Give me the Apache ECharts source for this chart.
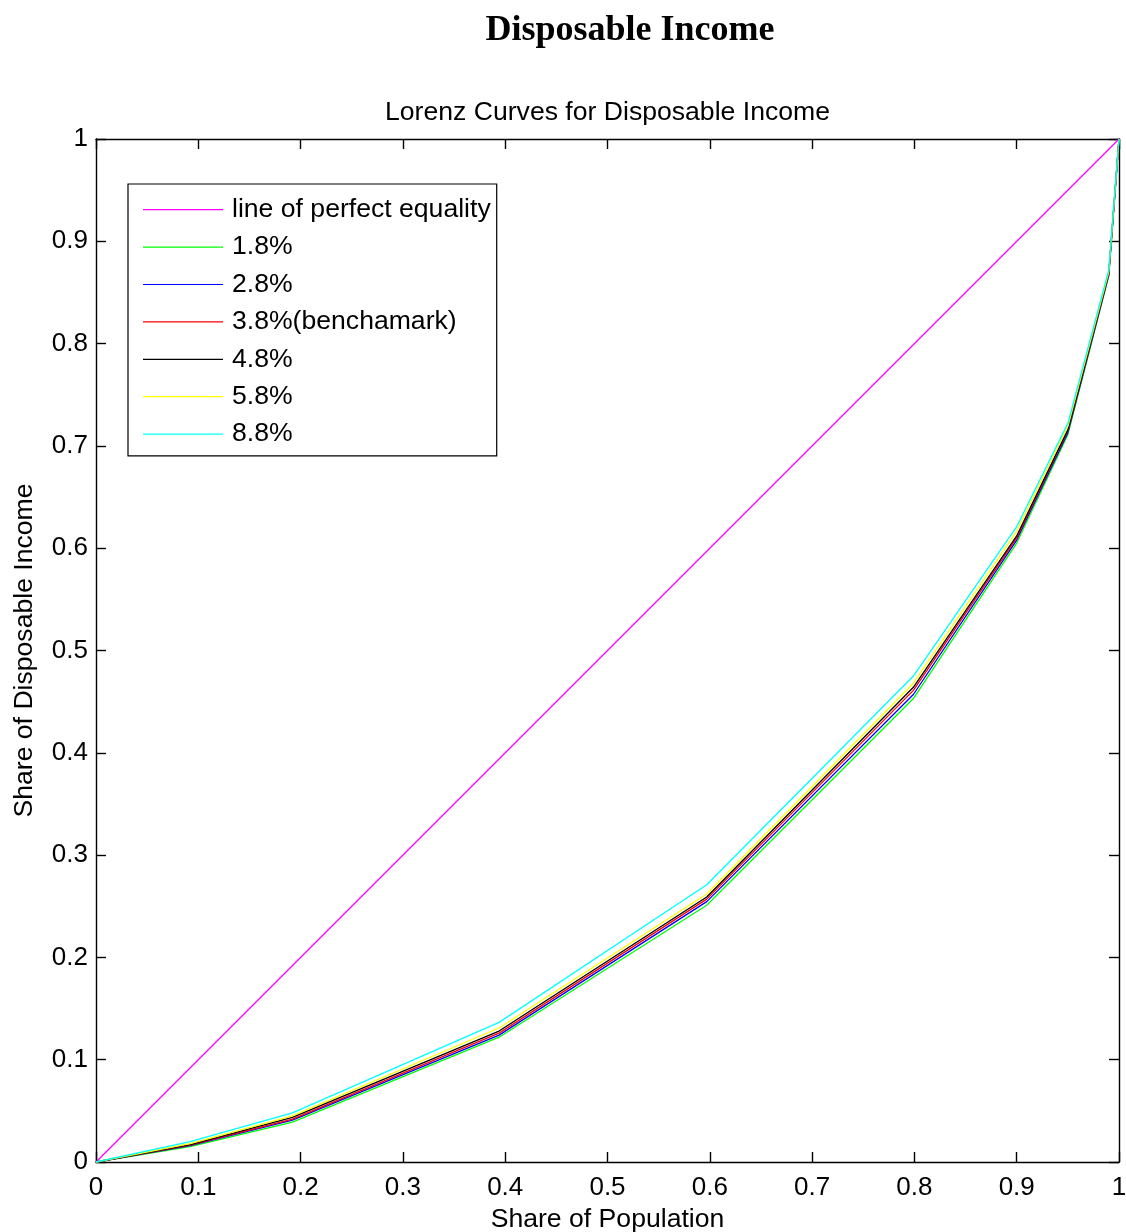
<!DOCTYPE html>
<html>
<head>
<meta charset="utf-8">
<script src="https://cdn.jsdelivr.net/npm/echarts@6/dist/echarts.min.js"></script>
<style>
html,body{margin:0;padding:0;background:#fff;}
#chart{width:1126px;height:1232px;}
</style>
</head>
<body>
<div id="chart"></div>
<script>
// Data
var populationShare = [0, 0.092, 0.192, 0.394, 0.597, 0.799, 0.9, 0.95, 0.99, 1];
var equality = [[0, 0], [1, 1]];
var seriesNames = ['1.8%', '2.8%', '3.8%(benchamark)', '4.8%', '5.8%', '8.8%'];
var rate18 = [0, 0.015, 0.039, 0.122, 0.251, 0.453, 0.605, 0.711, 0.866, 1];
var rate28 = [0, 0.016, 0.041, 0.124, 0.2545, 0.457, 0.608, 0.713, 0.867, 1];
var rate38 = [0, 0.0165, 0.042, 0.126, 0.257, 0.461, 0.610, 0.715, 0.868, 1];
var rate48 = [0, 0.017, 0.0437, 0.128, 0.259, 0.464, 0.612, 0.716, 0.869, 1];
var rate58 = [0, 0.018, 0.045, 0.131, 0.262, 0.468, 0.6165, 0.719, 0.870, 1];
var rate88 = [0, 0.020, 0.048, 0.1365, 0.271, 0.475, 0.621, 0.722, 0.872, 1];
var seriesValues = [rate18, rate28, rate38, rate48, rate58, rate88];
var seriesColors = ['#00ff00', '#0000ff', '#ff0000', '#000000', '#ffff00', '#00ffff'];

var chart = echarts.init(document.getElementById('chart'), null, {renderer: 'canvas'});
var font = '"Liberation Sans", Arial, Helvetica, sans-serif';

function pairs(ys) {
  return populationShare.map(function (x, i) { return [x, ys[i]]; });
}

var series = [{
  name: 'line of perfect equality',
  type: 'line',
  data: equality,
  symbol: 'none',
  clip: false,
  lineStyle: {color: '#ff00ff', width: 1.3, opacity: 1},
  itemStyle: {color: '#ff00ff'},
  emphasis: {disabled: true},
  animation: false
}];
seriesValues.forEach(function (v, i) {
  series.push({
    name: seriesNames[i],
    type: 'line',
    data: pairs(v),
    symbol: 'none',
    clip: false,
    lineStyle: {color: seriesColors[i], width: 1.3, opacity: 1},
    itemStyle: {color: seriesColors[i]},
    emphasis: {disabled: true},
    animation: false
  });
});

var axisCommon = {
  type: 'value', min: 0, max: 1, interval: 0.1,
  axisLine: {show: true, onZero: false, lineStyle: {color: '#000', width: 1.4}},
  axisTick: {show: true, inside: true, length: 10, lineStyle: {color: '#000', width: 1.4}},
  splitLine: {show: false}
};

chart.setOption({
  backgroundColor: '#fff',
  animation: false,
  title: [{
    text: 'Disposable Income',
    left: 625, top: 8, textAlign: 'center',
    textStyle: {fontFamily: '"Liberation Serif", "Times New Roman", serif', fontWeight: 'bold', fontSize: 36, color: '#000'}
  }, {
    text: 'Lorenz Curves for Disposable Income',
    left: 602.5, top: 94, textAlign: 'center',
    textStyle: {fontFamily: font, fontWeight: 'normal', fontSize: 26.6, color: '#000'}
  }],
  grid: {left: 96, right: 7, top: 139, bottom: 70, containLabel: false, outerBoundsMode: 'none'},
  legend: {
    left: 128, top: 184, orient: 'vertical',
    backgroundColor: '#fff', borderColor: '#000', borderWidth: 1.2,
    padding: [7, 6, 3, 15],
    itemWidth: 80, itemHeight: 1.2, itemGap: 0,
    icon: 'rect',
    textStyle: {fontFamily: font, fontSize: 26.6, color: '#000', lineHeight: 37.4, padding: [0, 0, 0, 4]},
    data: ['line of perfect equality'].concat(seriesNames)
  },
  xAxis: [Object.assign({}, axisCommon, {
    position: 'bottom',
    name: 'Share of Population', nameLocation: 'middle', nameGap: 40,
    nameTextStyle: {fontFamily: font, fontSize: 26.6, color: '#000'},
    axisLabel: {fontFamily: font, fontSize: 26, color: '#000', margin: 13}
  }), Object.assign({}, axisCommon, {
    position: 'top', axisLabel: {show: false}
  })],
  yAxis: [Object.assign({}, axisCommon, {
    position: 'left',
    name: 'Share of Disposable Income', nameLocation: 'middle', nameGap: 58,
    nameTextStyle: {fontFamily: font, fontSize: 26.6, color: '#000'},
    axisLabel: {fontFamily: font, fontSize: 26, color: '#000', margin: 8}
  }), Object.assign({}, axisCommon, {
    position: 'right', axisLabel: {show: false}
  })],
  series: series
});
</script>
</body>
</html>
